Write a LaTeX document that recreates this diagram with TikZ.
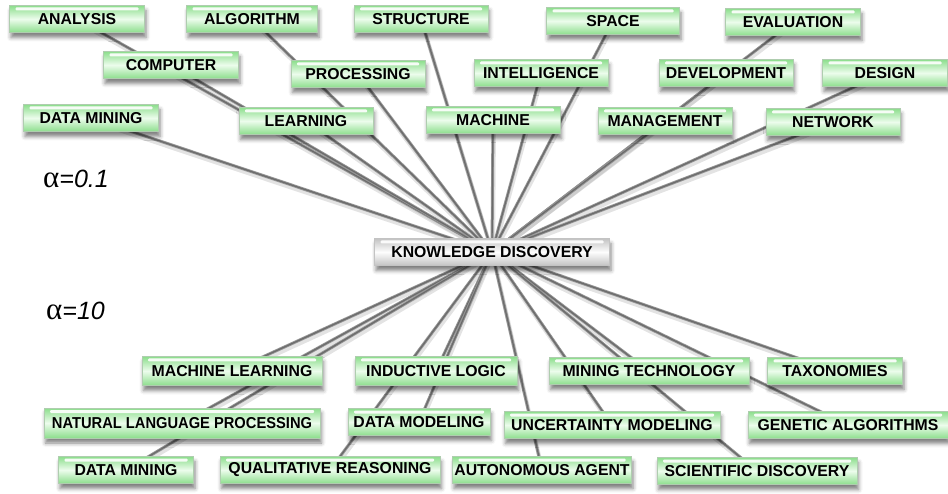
\documentclass[tikz,border=0pt]{standalone}
\usepackage{fontspec}
\setmainfont{Liberation Sans}
\newfontfamily\greekfont{Liberation Serif}
\usetikzlibrary{shadows.blur}

\definecolor{termedge}{RGB}{140,222,140}
\definecolor{termmid}{RGB}{236,252,236}
\definecolor{termline}{RGB}{175,205,175}
\definecolor{hubedge}{RGB}{195,195,195}
\definecolor{hubmid}{RGB}{253,253,253}

\pgfdeclarelayer{back}
\pgfsetlayers{back,main}

\newcommand{\alphasym}{{\greekfont\upshape\fontsize{31}{31}\selectfont α}}

\tikzset{
  glossy/.style={
    inner sep=0pt, minimum height=27pt,
    font=\fontsize{15.8}{17}\selectfont\bfseries,
    blur shadow={shadow xshift=1.5pt, shadow yshift=-5pt,
                 shadow blur radius=4pt, shadow opacity=50},
    path picture={
      \fill[white,opacity=.9,rounded corners=1pt]
        ([xshift=6pt,yshift=-2pt]path picture bounding box.north west)
        rectangle ([xshift=-6pt,yshift=-5pt]path picture bounding box.north east);
    }
  },
  term/.style={glossy, draw=termline, line width=.4pt,
    top color=termedge, bottom color=termedge, middle color=termmid},
  hub/.style={glossy, draw=hubedge, line width=.5pt,
    top color=hubedge, bottom color=hubedge, middle color=hubmid},
  linkshade/.style={line width=4pt, draw=black!22, opacity=.5,
    transform canvas={xshift=1pt, yshift=-3pt}},
  link/.style={line width=3pt, draw=black!42},
  linkcore/.style={line width=1.2pt, draw=black!58},
  alphalabel/.style={font=\fontsize{25}{27}\selectfont\itshape, inner sep=0pt}
}

\begin{document}
\begin{tikzpicture}[x=1pt, y=-1pt]
\useasboundingbox (0,0) rectangle (948,494);

% central term
\node[hub, minimum width=235pt] (kd) at (492,252) {KNOWLEDGE DISCOVERY};

% terms for alpha = 0.1
\node[term, minimum width=135pt] (t1)  at (77,19)   {ANALYSIS};
\node[term, minimum width=131pt] (t2)  at (252,19)  {ALGORITHM};
\node[term, minimum width=134pt] (t3)  at (421,19)  {STRUCTURE};
\node[term, minimum width=133pt] (t4)  at (613,21)  {SPACE};
\node[term, minimum width=135pt] (t5)  at (793,22)  {EVALUATION};
\node[term, minimum width=135pt] (t6)  at (171,65)  {COMPUTER};
\node[term, minimum width=134pt] (t7)  at (358,74)  {PROCESSING};
\node[term, minimum width=134pt] (t8)  at (541,73)  {INTELLIGENCE};
\node[term, minimum width=134pt] (t9)  at (726,73)  {DEVELOPMENT};
\node[term, minimum width=125pt] (t10) at (885,73)  {DESIGN};
\node[term, minimum width=135pt] (t11) at (91,118)  {DATA MINING};
\node[term, minimum width=134pt] (t12) at (306,121) {LEARNING};
\node[term, minimum width=134pt] (t13) at (493,120) {MACHINE};
\node[term, minimum width=134pt] (t14) at (665,121) {MANAGEMENT};
\node[term, minimum width=134pt] (t15) at (833,122) {NETWORK};

% terms for alpha = 10
\node[term, minimum width=180pt, minimum height=29pt] (b1)  at (232,371) {MACHINE LEARNING};
\node[term, minimum width=162pt, minimum height=29pt] (b2)  at (436,371) {INDUCTIVE LOGIC};
\node[term, minimum width=200pt] (b3)  at (649,371) {MINING TECHNOLOGY};
\node[term, minimum width=135pt] (b4)  at (835,371) {TAXONOMIES};
\node[term, minimum width=276pt, minimum height=30pt] (b5)  at (182,423)
  {\scalebox{0.93}[1]{NATURAL LANGUAGE PROCESSING}};
\node[term, minimum width=142pt] (b6)  at (419,422) {DATA MODELING};
\node[term, minimum width=216pt] (b7)  at (612,425) {UNCERTAINTY MODELING};
\node[term, minimum width=200pt] (b8)  at (848,425) {GENETIC ALGORITHMS};
\node[term, minimum width=135pt] (b9)  at (126,470) {DATA MINING};
\node[term, minimum width=220pt] (b10) at (330,470) {QUALITATIVE REASONING};
\node[term, minimum width=179pt] (b11) at (542,470) {AUTONOMOUS AGENT};
\node[term, minimum width=200pt] (b12) at (757,471) {SCIENTIFIC DISCOVERY};

% parameter labels
\node[alphalabel, anchor=base west] (a1) at (43,188) {\alphasym=0.1};
\node[alphalabel, anchor=base west] (a2) at (46,320) {\alphasym=10};

% connectors behind the boxes
\begin{pgfonlayer}{back}
  \foreach \n in {t1,t2,t3,t4,t5,t6,t7,t8,t9,t10,t11,t12,t13,t14,t15,
                  b1,b2,b3,b4,b5,b6,b7,b8,b9,b10,b11,b12}
    \draw[linkshade] (kd.center) -- (\n.center);
  \foreach \n in {t1,t2,t3,t4,t5,t6,t7,t8,t9,t10,t11,t12,t13,t14,t15,
                  b1,b2,b3,b4,b5,b6,b7,b8,b9,b10,b11,b12}
    {\draw[link] (kd.center) -- (\n.center);
     \draw[linkcore] (kd.center) -- (\n.center);}
\end{pgfonlayer}
\end{tikzpicture}
\end{document}
